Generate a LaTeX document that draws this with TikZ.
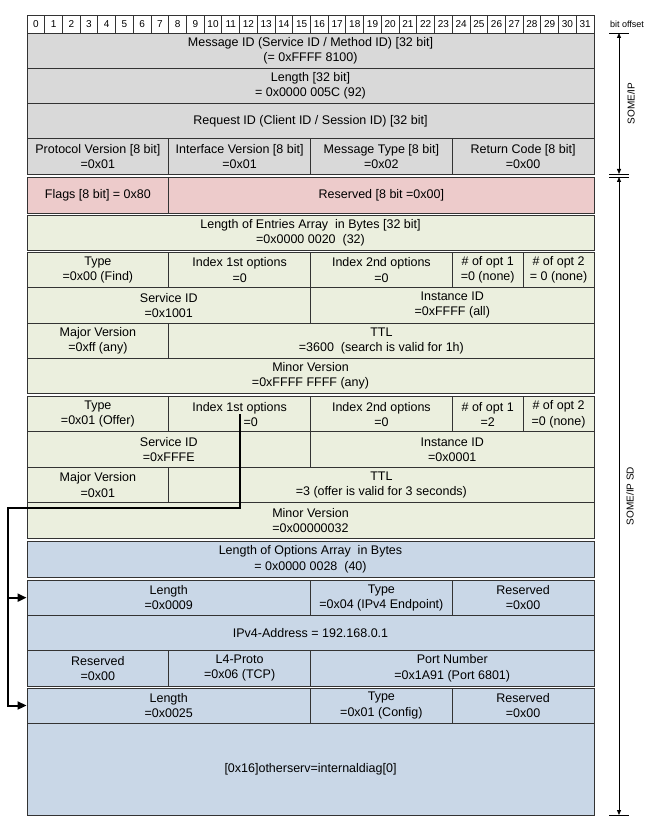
\documentclass[tikz,border=0pt]{standalone}
\usepackage{fontspec}
\setmainfont{Liberation Sans}
\usetikzlibrary{arrows.meta,calc}
\definecolor{hdrgray}{HTML}{D9D9D9}
\definecolor{flagpink}{HTML}{EDCBCB}
\definecolor{entgreen}{HTML}{EBEFDE}
\definecolor{optblue}{HTML}{C9D7E7}
\definecolor{edgegray}{HTML}{333333}
\newcommand\cellb[7]{\node[cellbox,fill=#6,minimum width={(#3-#2)*17.71875pt},minimum height={(#5-#4)*1pt}] (#1) at ({27+(#2+#3)/2*17.71875},{(#4+#5)/2}) {#7};}
\tikzset{
  cellbox/.style={draw=edgegray,line width=0.9pt,inner sep=0pt,align=center,font=\fontsize{12.5}{15.2}\selectfont},
  conn/.style={line width=2pt,black},
  connarrow/.style={conn,-{Triangle[length=9pt,width=8pt]}},
  tickline/.style={line width=0.8pt,black},
  dimarrow/.style={line width=0.8pt,black,{Triangle[length=5pt,width=4pt]}-{Triangle[length=5pt,width=4pt]}},
  sidelabel/.style={rotate=90,font=\fontsize{10}{10}\selectfont,inner sep=0pt}
}
\begin{document}
\begin{tikzpicture}[x=1pt,y=-1pt]
\fill[white] (0,0) rectangle (651,826);
\useasboundingbox (0,0) rectangle (651,826);
% bit header
\foreach \i in {0,...,31}{
  \cellb{b\i}{\i}{\i+1}{15}{33}{white}{\fontsize{10}{10}\selectfont\i}
}
\node[font=\fontsize{9}{9}\selectfont,inner sep=0pt] (bitoff) at (627,24) {bit offset};
% SOME/IP header
\cellb{msgid}{0}{32}{33}{68.3}{hdrgray}{Message ID (Service ID / Method ID) [32 bit]\\(= 0xFFFF 8100)}
\cellb{len}{0}{32}{68.3}{103.5}{hdrgray}{Length [32 bit]\\= 0x0000 005C (92)}
\cellb{reqid}{0}{32}{103.5}{138.8}{hdrgray}{Request ID (Client ID / Session ID) [32 bit]}
\cellb{protover}{0}{8}{138.8}{174}{hdrgray}{Protocol Version [8 bit]\\=0x01}
\cellb{ifver}{8}{16}{138.8}{174}{hdrgray}{Interface Version [8 bit]\\=0x01}
\cellb{msgtype}{16}{24}{138.8}{174}{hdrgray}{Message Type [8 bit]\\=0x02}
\cellb{retcode}{24}{32}{138.8}{174}{hdrgray}{Return Code [8 bit]\\=0x00}
% flags
\cellb{flags}{0}{8}{177}{213}{flagpink}{Flags [8 bit] = 0x80}
\cellb{resv}{8}{32}{177}{213}{flagpink}{Reserved [8 bit =0x00]}
% length of entries
\cellb{lenent}{0}{32}{215.5}{250.5}{entgreen}{Length of Entries Array\ \ in Bytes [32 bit]\\=0x0000 0020\ \ (32)}
% entry 1
\cellb{typea}{0}{8}{252.5}{287.75}{entgreen}{Type\\=0x00 (Find)}
\cellb{idx1a}{8}{16}{252.5}{287.75}{entgreen}{Index 1st options\\=0}
\cellb{idx2a}{16}{24}{252.5}{287.75}{entgreen}{Index 2nd options\\=0}
\cellb{nopt1a}{24}{28}{252.5}{287.75}{entgreen}{\# of opt 1\\=0 (none)}
\cellb{nopt2a}{28}{32}{252.5}{287.75}{entgreen}{\# of opt 2\\= 0 (none)}
\cellb{svca}{0}{16}{287.75}{323}{entgreen}{Service ID\\=0x1001}
\cellb{insta}{16}{32}{287.75}{323}{entgreen}{Instance ID\\=0xFFFF (all)}
\cellb{majora}{0}{8}{323}{358.25}{entgreen}{Major Version\\=0xff (any)}
\cellb{ttla}{8}{32}{323}{358.25}{entgreen}{TTL\\=3600\ \ (search is valid for 1h)}
\cellb{minora}{0}{32}{358.25}{393.5}{entgreen}{Minor Version\\=0xFFFF FFFF (any)}
% entry 2
\cellb{typeb}{0}{8}{396.5}{431.9}{entgreen}{Type\\=0x01 (Offer)}
\cellb{idx1b}{8}{16}{396.5}{431.9}{entgreen}{Index 1st options\\\hspace*{22pt}=0}
\cellb{idx2b}{16}{24}{396.5}{431.9}{entgreen}{Index 2nd options\\=0}
\cellb{nopt1b}{24}{28}{396.5}{431.9}{entgreen}{\# of opt 1\\=2}
\cellb{nopt2b}{28}{32}{396.5}{431.9}{entgreen}{\# of opt 2\\=0 (none)}
\cellb{svcb}{0}{16}{431.9}{467.3}{entgreen}{Service ID\\=0xFFFE}
\cellb{instb}{16}{32}{431.9}{467.3}{entgreen}{Instance ID\\=0x0001}
\cellb{majorb}{0}{8}{467.3}{502.6}{entgreen}{Major Version\\=0x01}
\cellb{ttlb}{8}{32}{467.3}{502.6}{entgreen}{TTL\\=3 (offer is valid for 3 seconds)}
\cellb{minorb}{0}{32}{502.6}{538}{entgreen}{Minor Version\\=0x00000032}
% length of options
\cellb{lenopt}{0}{32}{541.5}{577}{optblue}{Length of Options Array\ \ in Bytes\\= 0x0000 0028\ \ (40)}
% option 1
\cellb{olena}{0}{16}{580}{615.3}{optblue}{Length\\=0x0009}
\cellb{otypea}{16}{24}{580}{615.3}{optblue}{Type\\=0x04 (IPv4 Endpoint)}
\cellb{oresa}{24}{32}{580}{615.3}{optblue}{Reserved\\=0x00}
\cellb{ipv4}{0}{32}{615.3}{650.7}{optblue}{IPv4-Address = 192.168.0.1}
\cellb{oresc}{0}{8}{650.7}{686}{optblue}{Reserved\\=0x00}
\cellb{lfour}{8}{16}{650.7}{686}{optblue}{L4-Proto\\=0x06 (TCP)}
\cellb{port}{16}{32}{650.7}{686}{optblue}{Port Number\\=0x1A91 (Port 6801)}
% option 2
\cellb{olenb}{0}{16}{688}{723}{optblue}{Length\\=0x0025}
\cellb{otypeb}{16}{24}{688}{723}{optblue}{Type\\=0x01 (Config)}
\cellb{oresb}{24}{32}{688}{723}{optblue}{Reserved\\=0x00}
\cellb{cfg}{0}{32}{723}{815}{optblue}{[0x16]otherserv=internaldiag[0]}
% connector
\coordinate (kmid) at (239.6,508);
\coordinate (kleft) at (8,508);
\draw[connarrow] (idx1b.center) -- (idx1b.center |- kmid) -- (kleft) -- (kleft |- olenb.west) -- (olenb.west);
\draw[connarrow] (kleft |- olena.west) -- (olena.west);
% side dimension lines
\coordinate (sT) at (619,33);
\coordinate (sB) at (619,174);
\coordinate (dT) at (619,177);
\coordinate (dB) at (619,815);
\foreach \c in {sT,sB,dT,dB}{
  \draw[tickline] ([xshift=-10pt]\c) -- ([xshift=10pt]\c);
}
\draw[dimarrow] (sT) -- (sB);
\draw[dimarrow] (dT) -- (dB);
\node[sidelabel] (lsomeip) at (631,103.5) {SOME/IP};
\node[sidelabel] (lsd) at (630,496) {SOME/IP SD};
\end{tikzpicture}
\end{document}
